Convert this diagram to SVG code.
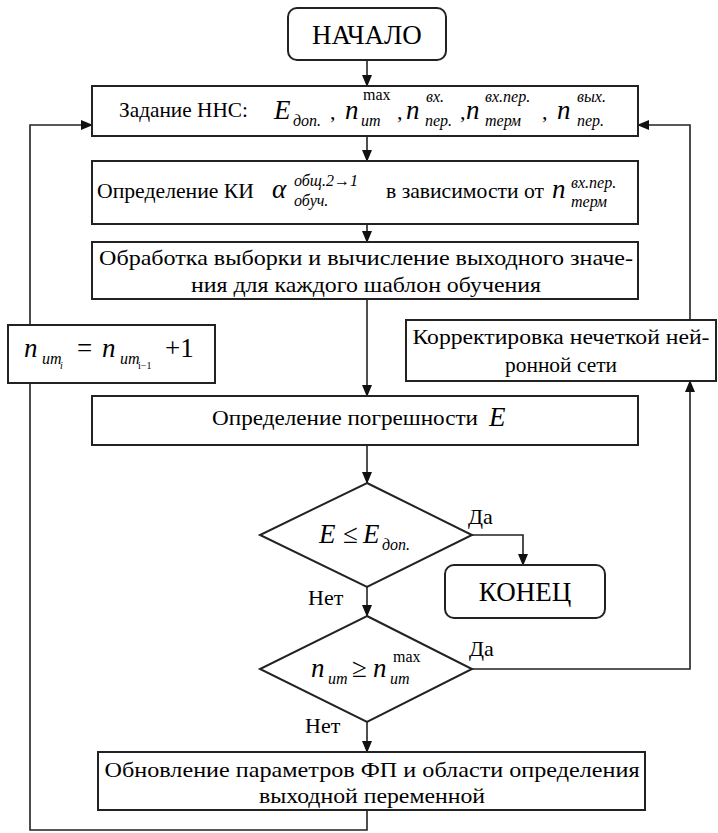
<svg xmlns="http://www.w3.org/2000/svg" width="718" height="833" viewBox="0 0 718 833" font-family="Liberation Serif">
<defs>
<marker id="ah" markerWidth="12" markerHeight="10" refX="11" refY="5" orient="auto" markerUnits="userSpaceOnUse">
<path d="M0,0 L12,5 L0,10 Z" fill="#111"/>
</marker>
</defs>
<rect width="718" height="833" fill="#fff"/>

<g id="connectors">
<g fill="none" stroke="#222" stroke-width="1.6">
<line x1="367" y1="60" x2="367" y2="86" marker-end="url(#ah)"/>
<line x1="367" y1="136" x2="367" y2="161" marker-end="url(#ah)"/>
<line x1="367" y1="224" x2="367" y2="242" marker-end="url(#ah)"/>
<line x1="367" y1="299" x2="367" y2="396" marker-end="url(#ah)"/>
<line x1="367" y1="445" x2="367" y2="483" marker-end="url(#ah)"/>
<polyline points="472,535 523,535 523,565" marker-end="url(#ah)"/>
<line x1="367" y1="587" x2="367" y2="616" marker-end="url(#ah)"/>
<polyline points="472,669 690,669 690,381" marker-end="url(#ah)"/>
<line x1="367" y1="722" x2="367" y2="752" marker-end="url(#ah)"/>
<polyline points="367,810 367,830 30,830 30,383"/>
<polyline points="30,325 30,125 92,125" marker-end="url(#ah)"/>
<polyline points="690,320 690,125 638,125" marker-end="url(#ah)"/>
</g>
<text font-size="22" x="468" y="524">Да</text>
<text font-size="22" x="308" y="605">Нет</text>
<text font-size="22" x="469" y="656">Да</text>
<text font-size="22" x="305" y="733">Нет</text>
</g>

<g id="start">
<rect x="288" y="8" width="158" height="52" rx="9" fill="#fff" stroke="#222" stroke-width="2"/>
<text font-size="27" text-anchor="middle" x="367" y="44">НАЧАЛО</text>
</g>

<g id="set-nns">
<rect x="92" y="86" width="546" height="50" fill="#fff" stroke="#222" stroke-width="2"/>
<text font-size="22" x="119" y="117" textLength="129" lengthAdjust="spacingAndGlyphs">Задание ННС:</text>
<text font-style="italic" font-size="27" x="274" y="119">E</text>
<text font-style="italic" font-size="16" x="293" y="126">доп.</text>
<text font-size="22" x="330" y="119">,</text>
<text font-style="italic" font-size="27" x="345" y="119">n</text>
<text font-size="16" x="363" y="100">max</text>
<text font-style="italic" font-size="16" x="361" y="126">ит</text>
<text font-size="22" x="397" y="119">,</text>
<text font-style="italic" font-size="27" x="406" y="119">n</text>
<text font-style="italic" font-size="16" x="426" y="102">вх.</text>
<text font-style="italic" font-size="16" x="425" y="126">пер.</text>
<text font-size="22" x="460" y="119">,</text>
<text font-style="italic" font-size="27" x="466" y="119">n</text>
<text font-style="italic" font-size="16" x="485" y="102">вх.пер.</text>
<text font-style="italic" font-size="16" x="485" y="126">терм</text>
<text font-size="22" x="542" y="119">,</text>
<text font-style="italic" font-size="27" x="557" y="119">n</text>
<text font-style="italic" font-size="16" x="577" y="102">вых.</text>
<text font-style="italic" font-size="16" x="577" y="126">пер.</text>
</g>

<g id="define-ki">
<rect x="92" y="161" width="546" height="63" fill="#fff" stroke="#222" stroke-width="2"/>
<text font-size="22" x="97" y="198" textLength="157" lengthAdjust="spacingAndGlyphs">Определение КИ</text>
<text font-style="italic" font-size="27" x="272" y="198">α</text>
<text font-style="italic" font-size="16" x="294" y="186">общ.2→1</text>
<text font-style="italic" font-size="16" x="294" y="206">обуч.</text>
<text font-size="22" x="386" y="198" textLength="158" lengthAdjust="spacingAndGlyphs">в зависимости от</text>
<text font-style="italic" font-size="27" x="552" y="198">n</text>
<text font-style="italic" font-size="16" x="571" y="188">вх.пер.</text>
<text font-style="italic" font-size="16" x="571" y="207">терм</text>
</g>

<g id="process">
<rect x="92" y="242" width="546" height="57" fill="#fff" stroke="#222" stroke-width="2"/>
<text font-size="22" text-anchor="middle" x="366" y="265" textLength="534" lengthAdjust="spacingAndGlyphs">Обработка выборки и вычисление выходного значе-</text>
<text font-size="22" text-anchor="middle" x="366" y="292" textLength="350" lengthAdjust="spacingAndGlyphs">ния для каждого шаблон обучения</text>
</g>

<g id="increment">
<rect x="8" y="325" width="207" height="58" fill="#fff" stroke="#222" stroke-width="2"/>
<text font-style="italic" font-size="27" x="24" y="357">n</text>
<text font-style="italic" font-size="16" x="42" y="364">ит</text>
<text font-style="italic" font-size="10" x="60" y="369">i</text>
<text font-size="27" x="77" y="357">=</text>
<text font-style="italic" font-size="27" x="102" y="357">n</text>
<text font-style="italic" font-size="16" x="120" y="364">ит</text>
<text font-size="10" x="138" y="369">i−1</text>
<text font-size="27" x="165" y="357">+1</text>
</g>

<g id="correct">
<rect x="406" y="320" width="310" height="61" fill="#fff" stroke="#222" stroke-width="2"/>
<text font-size="22" text-anchor="middle" x="561" y="344" textLength="297" lengthAdjust="spacingAndGlyphs">Корректировка нечеткой ней-</text>
<text font-size="22" text-anchor="middle" x="561" y="372" textLength="112" lengthAdjust="spacingAndGlyphs">ронной сети</text>
</g>

<g id="error">
<rect x="92" y="396" width="546" height="49" fill="#fff" stroke="#222" stroke-width="2"/>
<text font-size="22" x="212" y="425" textLength="266" lengthAdjust="spacingAndGlyphs">Определение погрешности</text>
<text font-style="italic" font-size="27" x="489" y="426">E</text>
</g>

<g id="cond-error">
<polygon points="367,483 472,535 367,587 260,535" fill="#fff" stroke="#222" stroke-width="2"/>
<text font-style="italic" font-size="27" x="319" y="543">E</text>
<text font-size="27" x="343" y="543">≤</text>
<text font-style="italic" font-size="27" x="363" y="543">E</text>
<text font-style="italic" font-size="16" x="382" y="550">доп.</text>
</g>

<g id="end">
<rect x="445" y="565" width="160" height="53" rx="9" fill="#fff" stroke="#222" stroke-width="2"/>
<text font-size="27" text-anchor="middle" x="525" y="601">КОНЕЦ</text>
</g>

<g id="cond-iter">
<polygon points="367,616 472,669 367,722 260,669" fill="#fff" stroke="#222" stroke-width="2"/>
<text font-style="italic" font-size="27" x="311" y="677">n</text>
<text font-style="italic" font-size="16" x="328" y="684">ит</text>
<text font-size="27" x="352" y="677">≥</text>
<text font-style="italic" font-size="27" x="373" y="677">n</text>
<text font-size="16" x="393" y="662">max</text>
<text font-style="italic" font-size="16" x="390" y="684">ит</text>
</g>

<g id="update">
<rect x="98" y="752" width="547" height="58" fill="#fff" stroke="#222" stroke-width="2"/>
<text font-size="22" text-anchor="middle" x="372" y="777" textLength="535" lengthAdjust="spacingAndGlyphs">Обновление параметров ФП и области определения</text>
<text font-size="22" text-anchor="middle" x="372" y="803" textLength="226" lengthAdjust="spacingAndGlyphs">выходной переменной</text>
</g>
</svg>
